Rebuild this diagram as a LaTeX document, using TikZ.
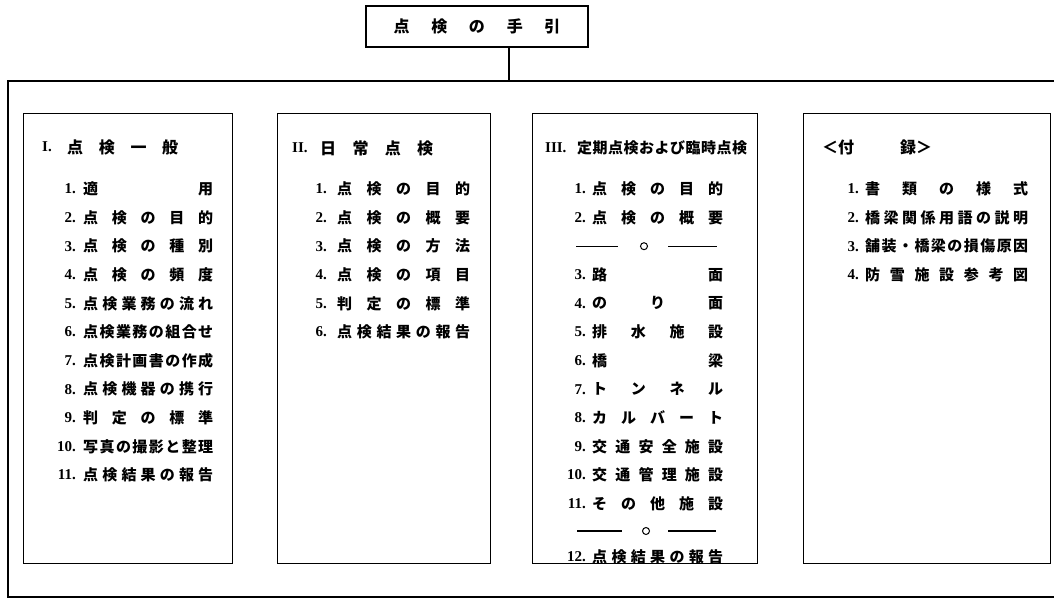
\documentclass[tikz,border=0pt]{standalone}
\usepackage{fontspec}
\newfontfamily\jp{Noto Sans CJK JP}
\newfontfamily\numf{Liberation Serif}
\def\zzspA#1{\ifx#1\relax\else\hfil#1\expandafter\zzspA\fi}
\def\zzspB#1{#1\zzspA}
\newcommand\zzsp[2]{\hbox to #1{\zzspB#2\relax}}
\tikzset{
  frame/.style={draw, line width=1.4pt},
  panel/.style={draw, line width=1.4pt, minimum width=#1, inner sep=0pt, anchor=north west},
  itm/.style={anchor=west, inner sep=0pt, font=\jp\bfseries\fontsize{15}{15}\selectfont},
  num/.style={anchor=east, inner sep=0pt, font=\numf\bfseries\fontsize{15}{15}\selectfont},
  ttl/.style={anchor=west, inner sep=0pt, font=\jp\bfseries\fontsize{16}{16}\selectfont},
  sep/.style={line width=1.2pt}
}
\begin{document}
\begin{tikzpicture}[x=1pt,y=-1pt]
\useasboundingbox (0,0) rectangle (1054,599);
% top title
\node[draw, line width=1.4pt, minimum width=222pt, minimum height=41pt, inner sep=0pt, font=\jp\bfseries\fontsize{16}{16}\selectfont] (top) at (477,26.5) {\zzsp{167pt}{点検の手引}};
% outer frame
\coordinate (frametop) at (509,81);
\draw[frame] (1056,81) -- (8,81) -- (8,597) -- (1056,597);
\draw[frame] (top.south -| frametop) -- (frametop);
% panels
\node[panel=209pt, minimum height=450pt] (p1) at (23,113) {};
\node[panel=213pt, minimum height=450pt] (p2) at (277,113) {};
\node[panel=225pt, minimum height=450pt] (p3) at (532,113) {};
\node[panel=247pt, minimum height=450pt] (p4) at (803,113) {};
% Panel I
\node[num, anchor=west] (t1n) at (42,147) {I.};
\node[ttl] (t1) at (67,147) {\zzsp{111pt}{点検一般}};
\node[num] (a1n) at (76,189) {1.};     \node[itm] (a1) at (83,189) {\zzsp{130pt}{適用}};
\node[num] (a2n) at (76,217.6) {2.};   \node[itm] (a2) at (83,217.6) {\zzsp{130pt}{点検の目的}};
\node[num] (a3n) at (76,246.2) {3.};   \node[itm] (a3) at (83,246.2) {\zzsp{130pt}{点検の種別}};
\node[num] (a4n) at (76,274.8) {4.};   \node[itm] (a4) at (83,274.8) {\zzsp{130pt}{点検の頻度}};
\node[num] (a5n) at (76,303.4) {5.};   \node[itm] (a5) at (83,303.4) {\zzsp{130pt}{点検業務の流れ}};
\node[num] (a6n) at (76,332) {6.};     \node[itm] (a6) at (83,332) {\zzsp{130pt}{点検業務の組合せ}};
\node[num] (a7n) at (76,360.6) {7.};   \node[itm] (a7) at (83,360.6) {\zzsp{130pt}{点検計画書の作成}};
\node[num] (a8n) at (76,389.2) {8.};   \node[itm] (a8) at (83,389.2) {\zzsp{130pt}{点検機器の携行}};
\node[num] (a9n) at (76,417.8) {9.};   \node[itm] (a9) at (83,417.8) {\zzsp{130pt}{判定の標準}};
\node[num] (a10n) at (76,446.4) {10.}; \node[itm] (a10) at (83,446.4) {\zzsp{130pt}{写真の撮影と整理}};
\node[num] (a11n) at (76,475) {11.};   \node[itm] (a11) at (83,475) {\zzsp{130pt}{点検結果の報告}};
% Panel II
\node[num, anchor=west] (t2n) at (292,148) {II.};
\node[ttl] (t2) at (320,148) {\zzsp{113pt}{日常点検}};
\node[num] (b1n) at (327,189) {1.};   \node[itm] (b1) at (337,189) {\zzsp{133pt}{点検の目的}};
\node[num] (b2n) at (327,217.6) {2.}; \node[itm] (b2) at (337,217.6) {\zzsp{133pt}{点検の概要}};
\node[num] (b3n) at (327,246.2) {3.}; \node[itm] (b3) at (337,246.2) {\zzsp{133pt}{点検の方法}};
\node[num] (b4n) at (327,274.8) {4.}; \node[itm] (b4) at (337,274.8) {\zzsp{133pt}{点検の項目}};
\node[num] (b5n) at (327,303.4) {5.}; \node[itm] (b5) at (337,303.4) {\zzsp{133pt}{判定の標準}};
\node[num] (b6n) at (327,332) {6.};   \node[itm] (b6) at (337,332) {\zzsp{133pt}{点検結果の報告}};
% Panel III
\node[num, anchor=west] (t3n) at (545,148) {III.};
\node[itm] (t3) at (577,148) {\zzsp{170pt}{定期点検および臨時点検}};
\node[num] (c1n) at (586,189) {1.};    \node[itm] (c1) at (592,189) {\zzsp{131pt}{点検の目的}};
\node[num] (c2n) at (586,217.6) {2.};  \node[itm] (c2) at (592,217.6) {\zzsp{131pt}{点検の概要}};
\draw[sep] (576,246.2) -- (618,246.2);
\draw[line width=1pt] (644,246.2) circle (3.5pt);
\draw[sep] (668,246.2) -- (717,246.2);
\node[num] (c3n) at (586,274.8) {3.};  \node[itm] (c3) at (592,274.8) {\zzsp{131pt}{路面}};
\node[num] (c4n) at (586,303.4) {4.};  \node[itm] (c4) at (592,303.4) {\zzsp{131pt}{のり面}};
\node[num] (c5n) at (586,332) {5.};    \node[itm] (c5) at (592,332) {\zzsp{131pt}{排水施設}};
\node[num] (c6n) at (586,360.6) {6.};  \node[itm] (c6) at (592,360.6) {\zzsp{131pt}{橋梁}};
\node[num] (c7n) at (586,389.2) {7.};  \node[itm] (c7) at (592,389.2) {\zzsp{131pt}{トンネル}};
\node[num] (c8n) at (586,417.8) {8.};  \node[itm] (c8) at (592,417.8) {\zzsp{131pt}{カルバート}};
\node[num] (c9n) at (586,446.4) {9.};  \node[itm] (c9) at (592,446.4) {\zzsp{131pt}{交通安全施設}};
\node[num] (c10n) at (586,475) {10.};  \node[itm] (c10) at (592,475) {\zzsp{131pt}{交通管理施設}};
\node[num] (c11n) at (586,503.6) {11.}; \node[itm] (c11) at (592,503.6) {\zzsp{131pt}{その他施設}};
\draw[sep] (577,531) -- (622,531);
\draw[line width=1pt] (646,531) circle (3.5pt);
\draw[sep] (668,531) -- (716,531);
\node[num] (c12n) at (586,557) {12.};  \node[itm] (c12) at (592,557) {\zzsp{131pt}{点検結果の報告}};
% Panel IV
\node[ttl] (t4) at (822,147) {\hbox to 110pt{＜付\hfil 録＞}};
\node[num] (d1n) at (859,189) {1.};   \node[itm] (d1) at (865,189) {\zzsp{163pt}{書類の様式}};
\node[num] (d2n) at (859,217.6) {2.}; \node[itm] (d2) at (865,217.6) {\zzsp{163pt}{橋梁関係用語の説明}};
\node[num] (d3n) at (859,246.2) {3.}; \node[itm] (d3) at (865,246.2) {\zzsp{163pt}{舗装・橋梁の損傷原因}};
\node[num] (d4n) at (859,274.8) {4.}; \node[itm] (d4) at (865,274.8) {\zzsp{163pt}{防雪施設参考図}};
\end{tikzpicture}
\end{document}
